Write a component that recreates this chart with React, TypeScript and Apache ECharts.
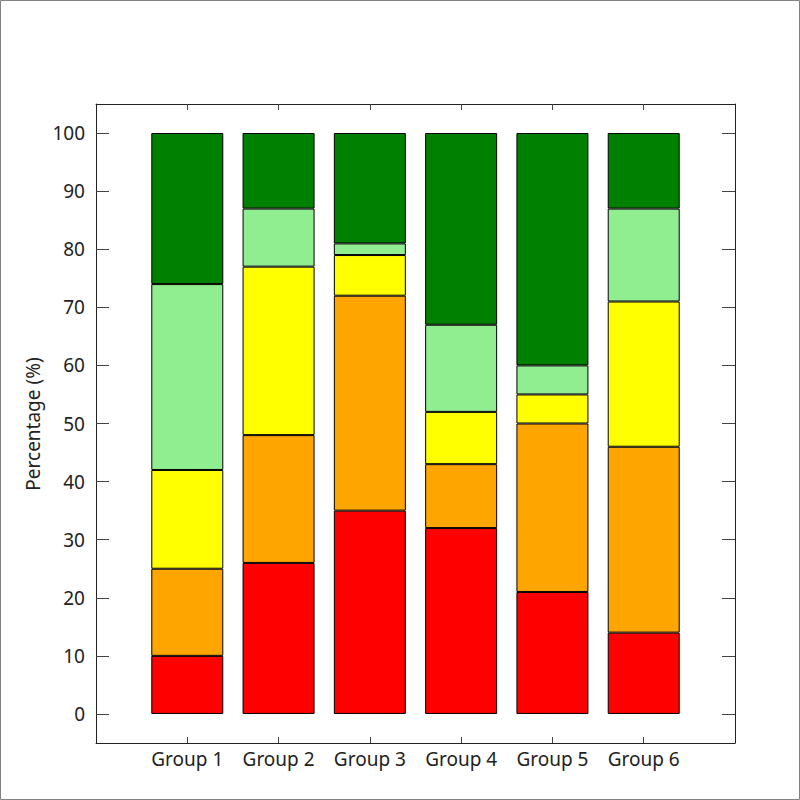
import React, { useEffect, useRef } from "react";
import * as echarts from "echarts";

const categories = ["", "Group 1", "Group 2", "Group 3", "Group 4", "Group 5", "Group 6", ""];
const seriesNames = ["A", "B", "C", "D", "E"];
const redVals = [null, 10, 26, 35, 32, 21, 14, null];
const orangeVals = [null, 15, 22, 37, 11, 29, 32, null];
const yellowVals = [null, 17, 29, 7, 9, 5, 25, null];
const lightGreenVals = [null, 32, 10, 2, 15, 5, 16, null];
const greenVals = [null, 26, 13, 19, 33, 40, 13, null];
const colors = ["#ff0000", "#ffa500", "#ffff00", "#90ee90", "#008000"];
const yTicks = [0, 10, 20, 30, 40, 50, 60, 70, 80, 90, 100];

export default function App() {
  const ref = useRef<HTMLDivElement>(null);
  useEffect(() => {
    document.body.style.margin = "0";
    const chart = echarts.init(ref.current!, null, { renderer: "svg" });
    const font = "Noto Sans";
    const all = [redVals, orangeVals, yellowVals, lightGreenVals, greenVals];
    const tickShow = (i: number) => i >= 1 && i <= 6;
    chart.setOption({
      animation: false,
      graphic: [
        {
          type: "rect",
          shape: { x: 0.5, y: 0.5, width: 799, height: 799 },
          style: { fill: "none", stroke: "#808080", lineWidth: 1 },
          silent: true,
        },
        {
          type: "text",
          x: 33,
          y: 424,
          rotation: Math.PI / 2,
          style: {
            text: "Percentage (%)",
            font: `19px "${font}"`,
            fill: "#222",
            align: "center",
            verticalAlign: "middle",
          },
        },
      ],
      grid: { left: 96, right: 65, top: 104, bottom: 57, containLabel: false },
      xAxis: [
        {
          type: "category",
          data: categories,
          boundaryGap: false,
          position: "bottom",
          axisLine: { onZero: false, lineStyle: { color: "#222", width: 1 } },
          axisTick: { inside: true, length: 6, interval: tickShow, lineStyle: { color: "#444" } },
          axisLabel: { interval: 0, color: "#222", fontSize: 19, fontFamily: font, margin: 6 },
          splitLine: { show: false },
        },
        {
          type: "category",
          data: categories,
          boundaryGap: false,
          position: "top",
          axisLine: { onZero: false, lineStyle: { color: "#222", width: 1 } },
          axisTick: { inside: true, length: 6, interval: tickShow, lineStyle: { color: "#444" } },
          axisLabel: { show: false },
          splitLine: { show: false },
        },
      ],
      yAxis: [
        {
          type: "value",
          min: -5,
          max: 105,
          position: "left",
          axisLine: { show: true, onZero: false, lineStyle: { color: "#222", width: 1 } },
          axisTick: { show: true, inside: true, length: 13, customValues: yTicks, lineStyle: { color: "#444" } },
          axisLabel: { customValues: yTicks, color: "#222", fontSize: 19, fontFamily: font, margin: 11 },
          splitLine: { show: false },
        },
        {
          type: "value",
          min: -5,
          max: 105,
          position: "right",
          axisLine: { show: true, onZero: false, lineStyle: { color: "#222", width: 1 } },
          axisTick: { show: true, inside: true, length: 13, customValues: yTicks, lineStyle: { color: "#444" } },
          axisLabel: { show: false },
          splitLine: { show: false },
        },
      ],
      series: all.map((vals, i) => ({
        name: seriesNames[i],
        type: "bar",
        stack: "total",
        xAxisIndex: 0,
        yAxisIndex: 0,
        barWidth: 72,
        data: vals.map((v) => (v === null ? "-" : v)),
        itemStyle: { color: colors[i], borderColor: "#000", borderWidth: 1 },
        emphasis: { disabled: true },
      })),
    });
    return () => chart.dispose();
  }, []);
  return <div ref={ref} style={{ width: 800, height: 800 }} />;
}
